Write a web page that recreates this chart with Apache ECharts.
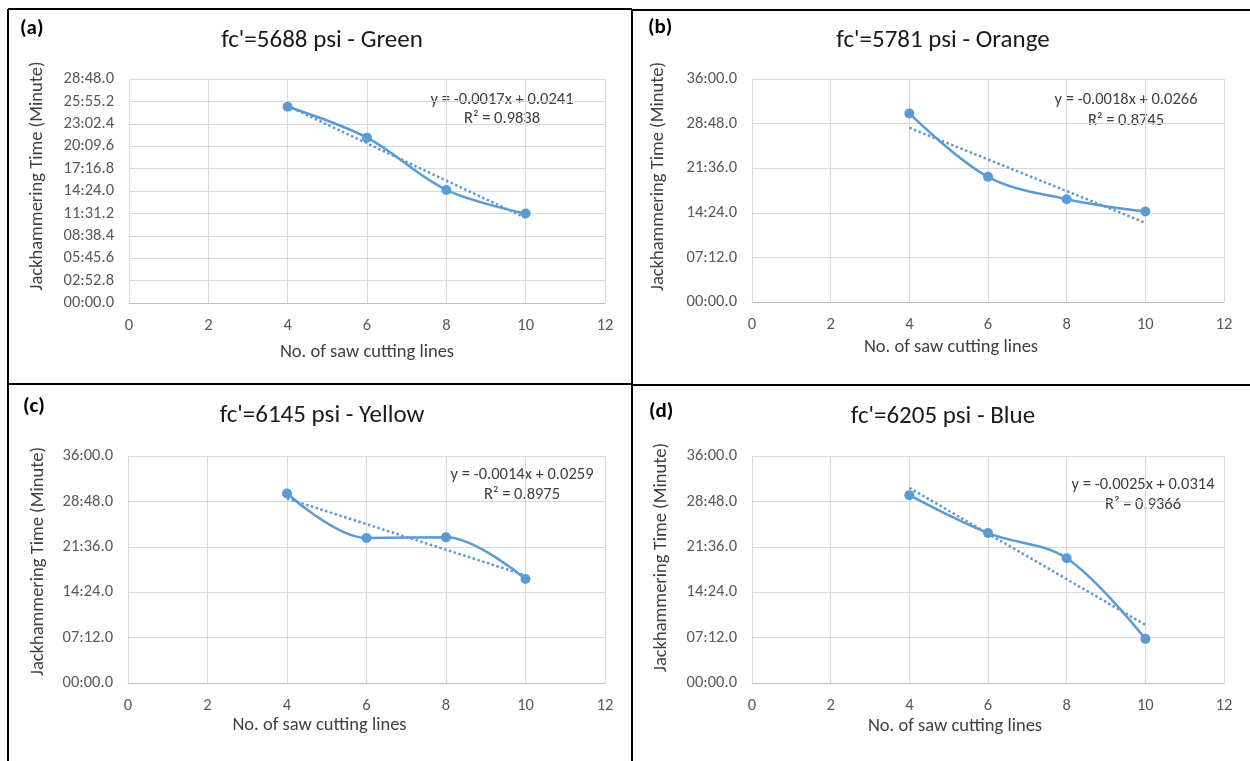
<!DOCTYPE html>
<html lang="en">
<head>
    <meta charset="UTF-8">
    <title>Jackhammering time</title>
    <script src="https://cdn.jsdelivr.net/npm/echarts@6/dist/echarts.min.js"></script>
    <style>
        *{
            margin:0;
            padding:0;
        }
        body {
            background: #fff;
        }
        #main {
            width: 1250px;
            height: 761px;
        }
    </style>
</head>
<body>
<div id="main"></div>
<script>
    // saw cutting lines
    var cuts = [4, 6, 8, 10];

    // jackhammering time, minutes
    var timeGreen  = [25.24, 21.26, 14.54, 11.50];
    var timeOrange = [30.44, 20.20, 16.60, 14.60];
    var timeYellow = [30.06, 23.00, 23.10, 16.50];
    var timeBlue   = [29.79, 23.78, 19.78, 7.00];

    var titles = ["fc'=5688 psi - Green", "fc'=5781 psi - Orange", "fc'=6145 psi - Yellow", "fc'=6205 psi - Blue"];
    var tags = ['(a)', '(b)', '(c)', '(d)'];
    var eqTexts = ['y = -0.0017x + 0.0241', 'y = -0.0018x + 0.0266', 'y = -0.0014x + 0.0259', 'y = -0.0025x + 0.0314'];
    var r2Texts = ['R² = 0.9838', 'R² = 0.8745', 'R² = 0.8975', 'R² = 0.9366'];

    // y axis ticks, minutes
    var yMax  = [28.8, 36, 36, 36];
    var yStep = [2.88, 7.2, 7.2, 7.2];

    var FONT = 'Carlito, Lato, sans-serif';
    var BLUE = '#5B9BD5';

    var allTimes = [timeGreen, timeOrange, timeYellow, timeBlue];

    // panel placement
    var grids = [
        {left: 129, top: 79, width: 476, height: 224},
        {left: 752, top: 79, width: 472, height: 223},
        {left: 128, top: 456, width: 477, height: 227},
        {left: 752, top: 456, width: 472, height: 227}
    ];
    var xNameGap = [40, 36, 33, 34];
    var xNameShift = [0, -37, -47, -33];
    var yNameGap = [82, 84, 80, 81];
    var yNameShift = [15, 14, 8, 12];
    var titlePos = [[322, 41], [943, 41], [322, 416], [943, 417]];
    var tagPos = [[20, 29], [648, 28], [23, 407], [649, 412]];
    var eqPos = [[502, 100, 119], [1126, 100, 121], [522, 475, 495], [1143, 485, 505]];

    function pad2(n) {
        return (n < 10 ? '0' : '') + n;
    }

    // minutes -> mm:ss.0
    function fmtTime(v) {
        var t = Math.round(v * 600);
        var mm = Math.floor(t / 600);
        var ss = (t - mm * 600) / 10;
        var s = ss.toFixed(1);
        if (ss < 10) s = '0' + s;
        return pad2(mm) + ':' + s;
    }

    // least squares line like Excel's linear trendline
    function trend(xs, ys) {
        var n = xs.length, mx = 0, my = 0;
        for (var i = 0; i < n; i++) { mx += xs[i]; my += ys[i]; }
        mx /= n; my /= n;
        var sxy = 0, sxx = 0;
        for (var j = 0; j < n; j++) {
            sxy += (xs[j] - mx) * (ys[j] - my);
            sxx += (xs[j] - mx) * (xs[j] - mx);
        }
        var b = sxy / sxx, a = my - b * mx;
        var x0 = xs[0], x1 = xs[n - 1];
        return [[x0, a + b * x0], [x1, a + b * x1]];
    }

    var chart = echarts.init(document.getElementById('main'), null, {renderer: 'canvas'});

    var gridOpt = [], xAxes = [], yAxes = [], series = [], graphics = [];

    for (var k = 0; k < 4; k++) {
        gridOpt.push({left: grids[k].left, top: grids[k].top, width: grids[k].width, height: grids[k].height, containLabel: false});

        xAxes.push({
            gridIndex: k,
            type: 'value',
            min: 0,
            max: 12,
            interval: 2,
            name: 'No. of saw cutting lines',
            nameLocation: 'middle',
            nameGap: xNameGap[k],
            nameTextStyle: {
                fontFamily: FONT, fontSize: 18.5, color: '#404040',
                padding: xNameShift[k] < 0 ? [0, -2 * xNameShift[k], 0, 0] : [0, 0, 0, 2 * xNameShift[k]]
            },
            axisLine: {show: true, lineStyle: {color: '#BFBFBF', width: 1}},
            axisTick: {show: false},
            axisLabel: {fontFamily: FONT, fontSize: 16.5, color: '#595959', margin: 14},
            splitLine: {show: true, lineStyle: {color: '#D9D9D9', width: 1}}
        });

        yAxes.push({
            gridIndex: k,
            type: 'value',
            min: 0,
            max: yMax[k],
            interval: yStep[k],
            name: 'Jackhammering Time (Minute)',
            nameLocation: 'middle',
            nameGap: yNameGap[k],
            nameTextStyle: {
                fontFamily: FONT, fontSize: 18.5, color: '#404040',
                padding: [0, 0, 0, 2 * yNameShift[k]]
            },
            axisLine: {show: false},
            axisTick: {show: false},
            axisLabel: {fontFamily: FONT, fontSize: 16.5, color: '#595959', margin: 15, formatter: fmtTime},
            splitLine: {show: true, lineStyle: {color: '#D9D9D9', width: 1}}
        });

        var pts = cuts.map(function (c, i) { return [c, allTimes[k][i]]; });

        series.push({
            name: titles[k],
            type: 'line',
            xAxisIndex: k,
            yAxisIndex: k,
            data: pts,
            smooth: 0.35,
            symbol: 'circle',
            symbolSize: 10,
            itemStyle: {color: BLUE},
            lineStyle: {color: BLUE, width: 2.5},
            z: 3
        });

        series.push({
            name: 'Linear (' + titles[k] + ')',
            type: 'line',
            xAxisIndex: k,
            yAxisIndex: k,
            data: trend(cuts, allTimes[k]),
            symbol: 'none',
            lineStyle: {color: BLUE, width: 2.5, type: [2.5, 2.5]},
            z: 2
        });

        graphics.push({
            type: 'text', x: titlePos[k][0], y: titlePos[k][1],
            style: {text: titles[k], fontFamily: FONT, fontSize: 25, fill: '#1a1a1a', align: 'center', verticalAlign: 'middle'}
        });
        graphics.push({
            type: 'text', x: tagPos[k][0], y: tagPos[k][1],
            style: {text: tags[k], fontFamily: FONT, fontSize: 21, fontWeight: 'bold', fill: '#000', align: 'left', verticalAlign: 'middle'}
        });
        graphics.push({
            type: 'text', x: eqPos[k][0], y: eqPos[k][1],
            style: {text: eqTexts[k], fontFamily: FONT, fontSize: 16.5, fill: '#404040', align: 'center', verticalAlign: 'middle'}
        });
        graphics.push({
            type: 'text', x: eqPos[k][0], y: eqPos[k][2],
            style: {text: r2Texts[k], fontFamily: FONT, fontSize: 16.5, fill: '#404040', align: 'center', verticalAlign: 'middle'}
        });
    }

    // panel frames
    var frameLines = [
        [8, 9, 632, 9], [632, 10, 1250, 10],
        [8, 9, 8, 761], [632, 9, 632, 761],
        [8, 384, 632, 384], [632, 385, 1250, 385]
    ];
    frameLines.forEach(function (l) {
        graphics.push({
            type: 'line',
            shape: {x1: l[0], y1: l[1], x2: l[2], y2: l[3]},
            style: {stroke: '#000', lineWidth: 2}
        });
    });

    var option = {
        backgroundColor: '#fff',
        animation: false,
        grid: gridOpt,
        xAxis: xAxes,
        yAxis: yAxes,
        series: series,
        graphic: graphics
    };

    chart.setOption(option);
</script>
</body>
</html>
